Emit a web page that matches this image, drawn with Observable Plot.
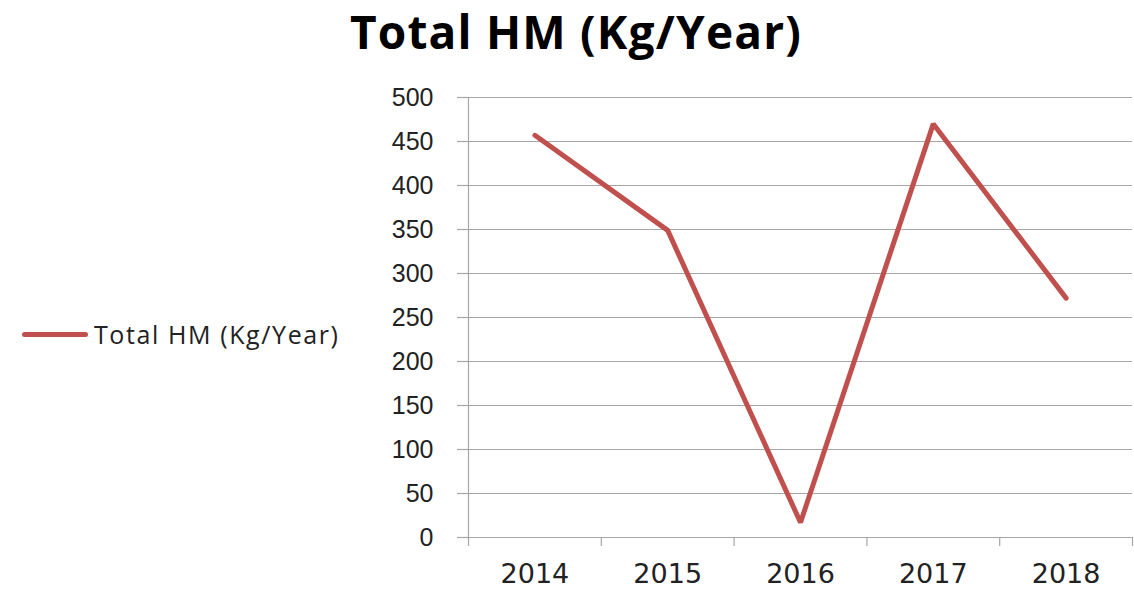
<!DOCTYPE html>
<html>
<head>
<meta charset="utf-8">
<script src="https://cdn.jsdelivr.net/npm/d3@7"></script>
<script src="https://cdn.jsdelivr.net/npm/@observablehq/plot@0.6"></script>
<style>
  html, body { margin: 0; padding: 0; background: #fff; }
  #wrap { position: relative; width: 1134px; height: 590px; overflow: hidden; }
  #title { position: absolute; left: 0; top: 0px; width: 1152px; text-align: center;
           font-family: "Open Sans", sans-serif; font-weight: 700; font-size: 46px; letter-spacing: 1.2px; color: #000; }
  #legend { position: absolute; left: 22px; top: 317px; display: flex; align-items: center;
            font-family: "Open Sans", sans-serif; font-size: 25px; letter-spacing: 1.6px; color: #222; }
  #legend .sw { width: 66px; height: 5px; background: #C0504D; border-radius: 3px; margin-right: 6px; }
  #chart { position: absolute; left: 0; top: 70px; }
</style>
</head>
<body>
<div id="wrap">
  <div id="title">Total HM (Kg/Year)</div>
  <div id="legend"><span class="sw"></span><span>Total HM (Kg/Year)</span></div>
  <div id="chart"></div>
</div>
<script>
const years = [2014, 2015, 2016, 2017, 2018];
const values = [457, 349, 17, 470, 272];
const yTicks = [0, 50, 100, 150, 200, 250, 300, 350, 400, 450, 500];
const bandEdges = [2013.5, 2014.5, 2015.5, 2016.5, 2017.5, 2018.5];

const data = years.map((y, i) => ({year: y, value: values[i]}));

const plot = Plot.plot({
  width: 1134,
  height: 520,
  marginTop: 27,
  marginBottom: 53,
  marginLeft: 468,
  marginRight: 2,
  style: {fontFamily: "'Liberation Sans', Arial, sans-serif", color: "#222", overflow: "visible"},
  x: {type: "linear", domain: [2013.5, 2018.5], axis: null},
  y: {domain: [0, 500], axis: null},
  marks: [
    Plot.gridY(yTicks, {stroke: "#a6a6a6", strokeOpacity: 1, strokeWidth: 1.2}),
    Plot.axisY({ticks: yTicks, tickSize: 11, tickPadding: 24, stroke: "#a6a6a6", strokeWidth: 1.2,
                fontSize: 25, fill: "#222", fontFamily: "'Liberation Sans', Arial, sans-serif", label: null}),
    Plot.ruleX([2013.5], {y1: 0, y2: 500, stroke: "#a6a6a6", strokeWidth: 1.2}),
    Plot.ruleY([0], {stroke: "#a6a6a6", strokeWidth: 1.2}),
    Plot.axisX({ticks: bandEdges, tickSize: 9, stroke: "#a6a6a6", strokeWidth: 1.2, tickFormat: () => "", label: null}),
    Plot.axisX({ticks: years, tickSize: 0, tickPadding: 26, tickFormat: d => String(d),
                fontSize: 27, fill: "#222", fontFamily: "'DejaVu Sans', sans-serif", label: null}),
    Plot.line(data, {x: "year", y: "value", stroke: "#C0504D", strokeWidth: 5, strokeLinejoin: "miter", strokeLinecap: "round"})
  ]
});
document.getElementById("chart").appendChild(plot);
</script>
</body>
</html>
